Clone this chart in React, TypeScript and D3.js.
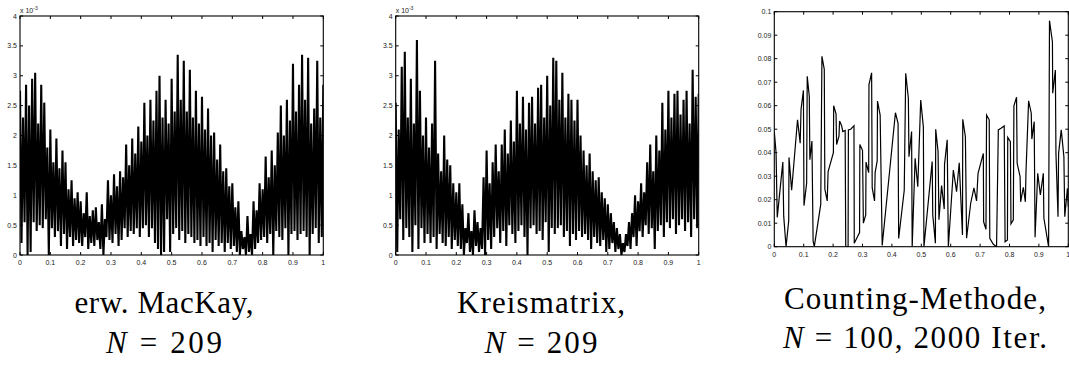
import * as d3 from 'd3';

// tick values shared by the panels
const xTicks = [0, 0.1, 0.2, 0.3, 0.4, 0.5, 0.6, 0.7, 0.8, 0.9, 1];
const yTicksDense = [0, 0.5, 1, 1.5, 2, 2.5, 3, 3.5, 4]; // x 10^-3
const yTicksCount = [0, 0.01, 0.02, 0.03, 0.04, 0.05, 0.06, 0.07, 0.08, 0.09, 0.1];

// erw. MacKay (x 10^-3): spike tops at i/100, valleys at (i+0.5)/100
const mackayPeaks = [
  2.75, 2.3, 2.85, 2.5, 2.95, 3.05, 2.2, 2.85, 2.55, 1.8,
  2.1, 1.55, 1.95, 1.45, 1.75, 1.55, 1.1, 1.25, 0.95, 1.05,
  0.9, 0.7, 1.05, 0.65, 0.75, 0.8, 0.55, 0.85, 0.6, 1.25,
  1.0, 1.35, 1.15, 1.4, 1.3, 1.85, 1.5, 1.95, 1.7, 2.15,
  1.9, 2.55, 2.0, 2.6, 2.25, 2.75, 3.0, 2.3, 2.6, 2.2,
  2.95, 2.4, 3.35, 2.6, 3.25, 2.4, 3.1, 2.3, 2.75, 2.2,
  2.65, 2.1, 2.45, 2.0, 2.05, 1.6, 1.85, 1.4, 1.45, 1.15,
  1.2, 0.8, 0.9, 0.4, 0.3, 0.65, 0.35, 0.9, 0.75, 1.2,
  1.1, 1.65, 1.3, 1.75, 1.5, 2.05, 2.5, 2.0, 2.6, 2.25,
  3.2, 2.4, 2.85, 3.35, 2.6, 3.3, 2.2, 2.45, 3.25, 2.3, 2.85,
];
const mackayTroughs = [
  0.2, 0.55, 0.0, 0.05, 0.55, 0.4, 0.5, 0.45, 0.6, 0.0,
  0.45, 0.3, 0.4, 0.15, 0.35, 0.1, 0.3, 0.15, 0.25, 0.2,
  0.15, 0.3, 0.1, 0.2, 0.15, 0.25, 0.1, 0.0, 0.3, 0.25,
  0.2, 0.35, 0.15, 0.25, 0.45, 0.3, 0.4, 0.35, 0.45, 0.3,
  0.45, 0.5, 0.3, 0.45, 0.2, 0.1, 0.0, 0.05, 0.6, 0.05,
  0.35, 0.45, 0.25, 0.4, 0.2, 0.35, 0.3, 0.2, 0.25, 0.15,
  0.3, 0.15, 0.2, 0.05, 0.25, 0.15, 0.2, 0.05, 0.2, 0.1,
  0.15, 0.05, 0.0, 0.1, 0.0, 0.05, 0.0, 0.1, 0.2, 0.25,
  0.3, 0.2, 0.35, 0.0, 0.4, 0.3, 0.25, 0.45, 0.0, 0.35,
  0.4, 0.25, 0.35, 0.4, 0.3, 0.0, 0.35, 0.45, 0.2, 0.3,
];

// Kreismatrix (x 10^-3)
const kreisPeaks = [
  2.55, 2.1, 3.15, 3.4, 2.3, 2.95, 2.2, 3.6, 2.75, 2.0,
  2.3, 1.8, 2.2, 3.25, 1.7, 1.4, 2.0, 1.6, 1.5, 1.2,
  1.05, 1.2, 0.85, 0.45, 0.7, 0.4, 0.75, 0.55, 0.45, 1.3,
  1.75, 1.2, 1.55, 1.85, 1.4, 1.85, 2.1, 1.7, 2.25, 1.9,
  2.75, 2.2, 2.65, 2.1, 2.55, 2.65, 2.2, 2.8, 2.85, 2.3,
  3.0, 2.5, 3.3, 3.25, 2.6, 3.05, 2.3, 2.7, 2.6, 2.25,
  2.6, 2.0, 1.75, 1.5, 1.7, 1.4, 1.25, 1.3, 1.05, 0.95,
  0.85, 0.7, 0.55, 0.45, 0.35, 0.2, 0.35, 0.55, 0.7, 1.0,
  0.9, 1.2, 1.05, 1.55, 1.85, 1.4, 2.0, 1.75, 2.55, 2.1,
  2.75, 2.3, 2.7, 2.75, 2.35, 2.6, 2.75, 2.2, 3.1, 2.65, 2.7,
];
const kreisTroughs = [
  0.05, 0.6, 0.25, 0.45, 0.3, 0.05, 0.5, 0.1, 0.45, 0.2,
  0.35, 0.2, 0.3, 0.1, 0.35, 0.2, 0.15, 0.3, 0.1, 0.25,
  0.15, 0.1, 0.0, 0.2, 0.05, 0.0, 0.15, 0.05, 0.1, 0.0,
  0.25, 0.1, 0.3, 0.45, 0.2, 0.4, 0.15, 0.5, 0.35, 0.2,
  0.4, 0.5, 0.3, 0.0, 0.45, 0.5, 0.35, 0.4, 0.25, 0.55,
  0.05, 0.45, 0.35, 0.45, 0.5, 0.3, 0.4, 0.15, 0.35, 0.25,
  0.4, 0.3, 0.35, 0.25, 0.1, 0.3, 0.2, 0.15, 0.25, 0.05,
  0.1, 0.2, 0.05, 0.1, 0.0, 0.05, 0.15, 0.1, 0.3, 0.15,
  0.4, 0.3, 0.5, 0.35, 0.45, 0.1, 0.4, 0.5, 0.3, 0.55,
  0.45, 0.6, 0.35, 0.5, 0.6, 0.4, 0.55, 0.3, 0.6, 0.45,
];

// Counting-Methode: [x, value]
const countingPoints: [number, number][] = [
  [0.0, 0.049], [0.006, 0.04], [0.01, 0.0125], [0.029, 0.036], [0.032, 0.013], [0.04, 0],
  [0.049, 0.011], [0.05, 0.038], [0.059, 0.024], [0.079, 0.054], [0.088, 0.044], [0.091, 0.0585],
  [0.099, 0.0665], [0.101, 0.0175], [0.11, 0.027], [0.112, 0.0725], [0.119, 0.064], [0.121, 0.037],
  [0.128, 0.045], [0.132, 0.0025], [0.136, 0], [0.158, 0.018], [0.162, 0.081], [0.17, 0.0755],
  [0.172, 0.0245], [0.18, 0.0195], [0.183, 0.032], [0.201, 0.04], [0.202, 0.06], [0.21, 0.0565],
  [0.212, 0.0435], [0.22, 0.047], [0.222, 0.0535], [0.229, 0.0515], [0.233, 0.049], [0.241, 0.0495],
  [0.243, 0], [0.251, 0], [0.252, 0.0497], [0.26, 0.05], [0.271, 0.0515], [0.272, 0.0015],
  [0.282, 0.004], [0.29, 0.006], [0.291, 0.0435], [0.3, 0.041], [0.303, 0.01], [0.311, 0.0135],
  [0.312, 0.036], [0.321, 0.0315], [0.322, 0.069], [0.331, 0.074], [0.333, 0.025], [0.341, 0.0195],
  [0.343, 0.0315], [0.35, 0.0365], [0.351, 0.062], [0.36, 0.056], [0.367, 0.0005], [0.412, 0.057],
  [0.421, 0.0525], [0.423, 0.0035], [0.442, 0.024], [0.447, 0.0738], [0.456, 0.0631], [0.458, 0.0383],
  [0.467, 0.049], [0.469, 0], [0.479, 0.0376], [0.488, 0.0255], [0.498, 0.0624], [0.507, 0.051],
  [0.509, 0], [0.537, 0.0362], [0.539, 0.0135], [0.548, 0.0015], [0.549, 0.05], [0.557, 0.0405],
  [0.56, 0.0115], [0.569, 0.026], [0.578, 0.016], [0.579, 0.035], [0.588, 0.0455], [0.592, 0],
  [0.609, 0.0326], [0.62, 0.0234], [0.629, 0.0357], [0.64, 0.005], [0.641, 0.0542], [0.65, 0.0468],
  [0.654, 0.0036], [0.668, 0.0185], [0.679, 0.025], [0.688, 0.0195], [0.693, 0.0312], [0.711, 0.0397],
  [0.712, 0.0106], [0.72, 0.0074], [0.722, 0.056], [0.731, 0.054], [0.733, 0.0036], [0.745, 0.001],
  [0.756, 0], [0.762, 0.0497], [0.771, 0.0504], [0.782, 0.0514], [0.785, 0.0021], [0.793, 0.0029],
  [0.794, 0.0465], [0.803, 0.0447], [0.805, 0.0097], [0.813, 0.0114], [0.815, 0.0599], [0.824, 0.0636],
  [0.826, 0.0355], [0.836, 0.0298], [0.838, 0.0191], [0.847, 0.0253], [0.854, 0.0191], [0.856, 0.0315],
  [0.865, 0.0621], [0.874, 0.0568], [0.876, 0.0458], [0.884, 0.0532], [0.887, 0.004], [0.896, 0.0312],
  [0.905, 0.022], [0.915, 0.0312], [0.917, 0.0121], [0.933, 0], [0.936, 0.0962], [0.946, 0.0872],
  [0.947, 0.0653], [0.956, 0.0752], [0.958, 0.0397], [0.965, 0.0128], [0.967, 0.0397], [0.976, 0.0497],
  [0.985, 0.0383], [0.988, 0.0128], [0.997, 0.0248], [1.0, 0.017],
];

const titles = [
  { line1: 'erw. MacKay,', rest: ' = 209', w1: 179, w2: 116 },
  { line1: 'Kreismatrix,', rest: ' = 209', w1: 168, w2: 113 },
  { line1: 'Counting-Methode,', rest: ' = 100, 2000 Iter.', w1: 262, w2: 264 },
];

const zigzag = (peaks: number[], troughs: number[]): [number, number][] =>
  peaks.flatMap((p, i) =>
    i < troughs.length ? [[i / 100, p], [(i + 0.5) / 100, troughs[i]]] : [[i / 100, p]]
  ) as [number, number][];

type Box = { left: number; right: number; top: number; bottom: number };

const Panel = ({ id, box, yMax, yTicks, yFmt, points, exponent, strokeW }: {
  id: string; box: Box; yMax: number; yTicks: number[]; yFmt: (v: number) => string;
  points: [number, number][]; exponent: boolean; strokeW: number;
}) => {
  const x = d3.scaleLinear().domain([0, 1]).range([box.left, box.right]);
  const y = d3.scaleLinear().domain([0, yMax]).range([box.bottom, box.top]);
  const line = d3.line<[number, number]>().x(d => x(d[0])).y(d => y(d[1]));
  const fx = d3.format('~g');
  const tl = 3;
  const lbl = { fontFamily: "'Liberation Sans', Arial, sans-serif", fontSize: 7, fill: '#222' };
  return (
    <g>
      <clipPath id={id}>
        <rect x={box.left} y={box.top} width={box.right - box.left} height={box.bottom - box.top} />
      </clipPath>
      <path d={line(points) || ''} fill="none" stroke="#000" strokeWidth={strokeW}
        strokeLinejoin="miter" clipPath={`url(#${id})`} />
      <rect x={box.left} y={box.top} width={box.right - box.left} height={box.bottom - box.top}
        fill="none" stroke="#000" strokeWidth={1.1} />
      {xTicks.map(t => (
        <g key={'x' + t}>
          <line x1={x(t)} x2={x(t)} y1={box.bottom} y2={box.bottom - tl} stroke="#000" />
          <line x1={x(t)} x2={x(t)} y1={box.top} y2={box.top + tl} stroke="#000" />
          <text x={x(t)} y={box.bottom + 10} textAnchor="middle" {...lbl}>{fx(t)}</text>
        </g>
      ))}
      {yTicks.map(t => (
        <g key={'y' + t}>
          <line x1={box.left} x2={box.left + tl} y1={y(t)} y2={y(t)} stroke="#000" />
          <line x1={box.right} x2={box.right - tl} y1={y(t)} y2={y(t)} stroke="#000" />
          <text x={box.left - 3} y={y(t) + 2.5} textAnchor="end" {...lbl}>{yFmt(t)}</text>
        </g>
      ))}
      {exponent && (
        <text x={box.left} y={box.top - 3} {...lbl}>
          x 10<tspan dy={-3} fontSize={5}>-3</tspan>
        </text>
      )}
    </g>
  );
};

const Title = ({ cx, y1, y2, t }: { cx: number; y1: number; y2: number; t: typeof titles[0] }) => {
  const st = { fontFamily: "'Liberation Serif', 'DejaVu Serif', serif", fontSize: 31, fill: '#000' };
  return (
    <g>
      <text x={cx} y={y1} textAnchor="middle" textLength={t.w1} lengthAdjust="spacing" {...st}>{t.line1}</text>
      <text x={cx} y={y2} textAnchor="middle" textLength={t.w2} lengthAdjust="spacing" {...st}>
        <tspan fontStyle="italic">N</tspan>
        <tspan>{t.rest}</tspan>
      </text>
    </g>
  );
};

const App = () => {
  const box1 = { left: 20, right: 323.3, top: 16, bottom: 255 };
  const box2 = { left: 395.7, right: 698.7, top: 16, bottom: 255 };
  const box3 = { left: 774.3, right: 1068.3, top: 11.7, bottom: 246.7 };
  const fy1 = d3.format('~g');
  const fy3 = d3.format('.2~f');
  return (
    <svg width={1069} height={365} style={{ position: 'absolute', left: 0, top: 0, background: '#fff' }}>
      <Panel id="c1" box={box1} yMax={4} yTicks={yTicksDense} yFmt={fy1}
        points={zigzag(mackayPeaks, mackayTroughs)} exponent strokeW={2.1} />
      <Panel id="c2" box={box2} yMax={4} yTicks={yTicksDense} yFmt={fy1}
        points={zigzag(kreisPeaks, kreisTroughs)} exponent strokeW={2.1} />
      <Panel id="c3" box={box3} yMax={0.1} yTicks={yTicksCount} yFmt={fy3}
        points={countingPoints} exponent={false} strokeW={1.2} />
      <Title cx={164} y1={313} y2={353} t={titles[0]} />
      <Title cx={541} y1={313} y2={353} t={titles[1]} />
      <Title cx={915} y1={309} y2={348} t={titles[2]} />
    </svg>
  );
};

export default App;
